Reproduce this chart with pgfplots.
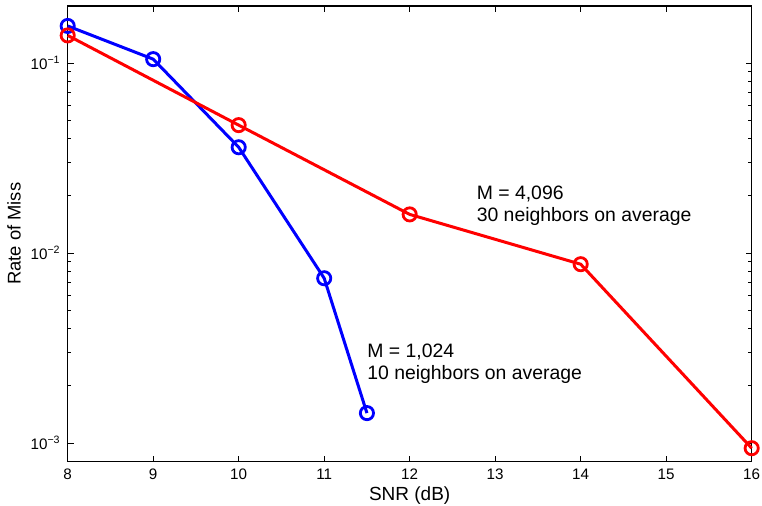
\documentclass[border=0pt]{standalone}
\usepackage{fontspec}
\setmainfont{Liberation Sans}
\usepackage{pgfplots}
\pgfplotsset{compat=1.18}

\begin{document}
\begin{tikzpicture}
\useasboundingbox (-33.85pt,-22.15pt) rectangle (347.15pt,230.8pt);
\begin{axis}[
  scale only axis, width=342pt, height=227.8pt,
  ymode=log,
  xmin=8, xmax=16, ymin=8e-4, ymax=0.2,
  xtick={8,...,16},
  ytick={0.001,0.01,0.1},
  yticklabels={10\textsuperscript{−3},10\textsuperscript{−2},10\textsuperscript{−1}},
  tick align=inside, ticks=both,
  major tick length=3pt, minor tick length=1.7pt,
  every tick/.style={black, line width=0.5pt},
  axis line style={line width=0.6pt},
  /pgf/number format/assume math mode=true,
  tick label style={font=\fontsize{7.6}{9}\selectfont},
  xlabel style={font=\fontsize{9.5}{11}\selectfont, yshift=3pt},
  ylabel style={font=\fontsize{9.2}{11}\selectfont, yshift=-2pt},
  xlabel={SNR (dB)}, ylabel={Rate of Miss},
  clip=false,
]
\addplot[blue, line width=1.5pt, mark=o, mark size=3.3pt, mark options={line width=1.4pt}]
  coordinates {(8,0.157)(9,0.105)(10,0.0361)(11,0.00738)(11.5,0.00144)};
\addplot[red, line width=1.5pt, mark=o, mark size=3.3pt, mark options={line width=1.4pt}]
  coordinates {(8,0.140)(10,0.0472)(12,0.0160)(14,0.00875)(16,0.000941)};
\node[anchor=north west, inner sep=0pt, align=left, font=\fontsize{9.7}{11}\selectfont]
  at (axis cs:12.78,0.0227) {M = 4,096\\30 neighbors on average};
\node[anchor=north west, inner sep=0pt, align=left, font=\fontsize{9.7}{11}\selectfont]
  at (axis cs:11.50,0.00335) {M = 1,024\\10 neighbors on average};
\end{axis}
\end{tikzpicture}
\end{document}
